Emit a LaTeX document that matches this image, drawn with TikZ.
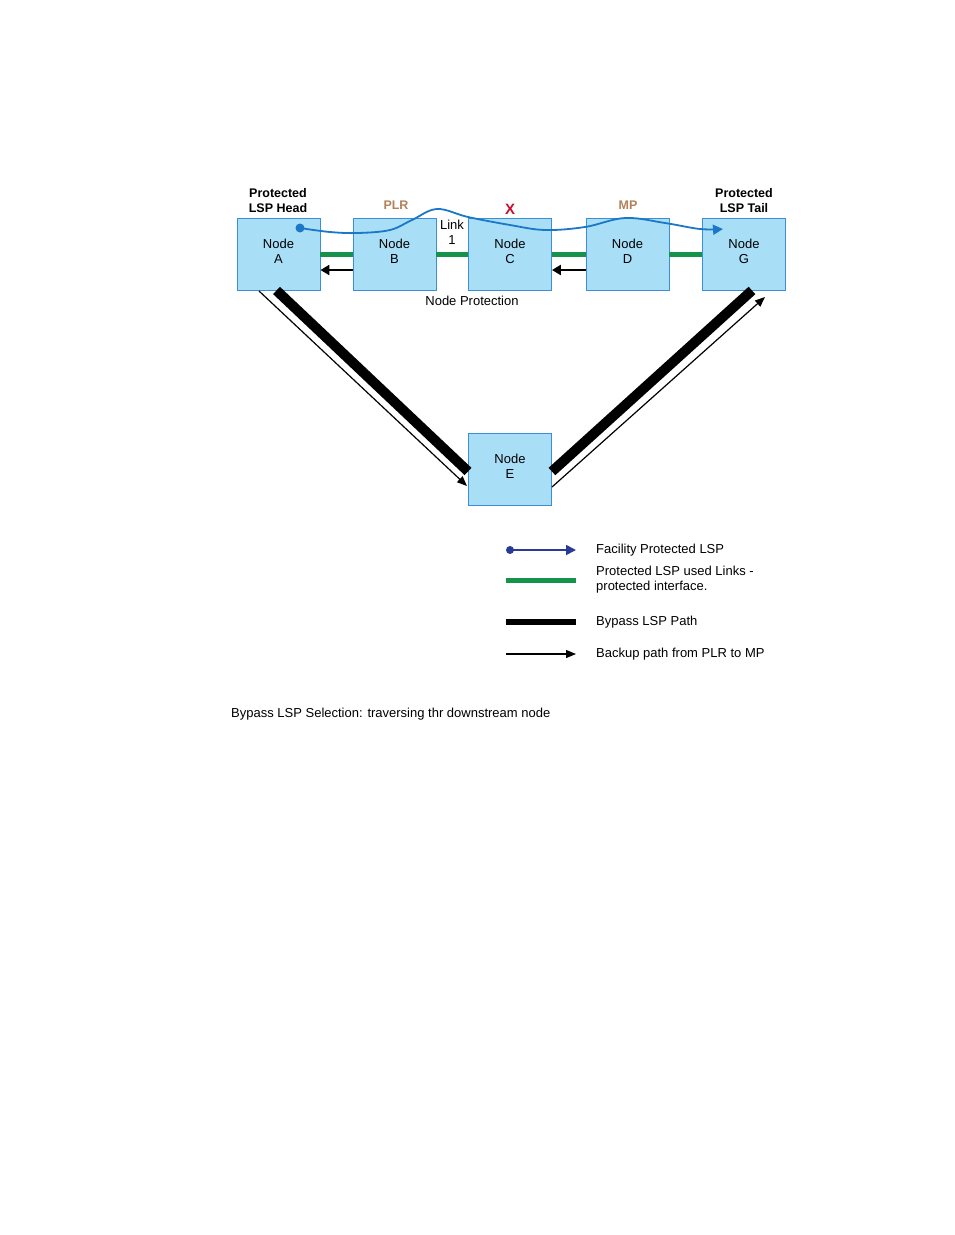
\documentclass[tikz,border=0pt]{standalone}
\usepackage{fontspec}
\setmainfont{Liberation Sans}
\usetikzlibrary{arrows.meta}
\definecolor{nodefill}{HTML}{A9DEF7}
\definecolor{nodedraw}{HTML}{3B8FD6}
\definecolor{linkgreen}{HTML}{16934A}
\definecolor{lspblue}{HTML}{1B78C8}
\definecolor{legblue}{HTML}{2B3A96}
\definecolor{brownlab}{HTML}{B3825A}
\definecolor{xred}{HTML}{C8102E}
\tikzset{
  nodebox/.style={draw=nodedraw, fill=nodefill, line width=0.9pt, minimum width=83pt, minimum height=72pt, inner sep=0pt, align=center, text depth=6pt, font=\fontsize{13}{15}\selectfont},
  glink/.style={linkgreen, line width=5pt},
  backarrow/.style={line width=2.6pt, -{Triangle[length=9pt,width=10pt]}},
  bypass/.style={line width=10pt},
  backup/.style={line width=1.2pt, -{Triangle[length=10pt,width=8pt]}},
  lbl/.style={font=\fontsize{13}{15}\selectfont, align=center, inner sep=0pt},
  boldlbl/.style={font=\bfseries\fontsize{12.5}{15}\selectfont, align=center, inner sep=0pt},
  legtxt/.style={font=\fontsize{13}{15}\selectfont, anchor=west, align=left, inner sep=0pt},
}
\begin{document}
\begin{tikzpicture}[x=1pt,y=-1pt]
\useasboundingbox (0,0) rectangle (954,1235);
% nodes
\node[nodebox] (A) at (278.5,254) {Node\\A};
\node[nodebox] (B) at (394.5,254) {Node\\B};
\node[nodebox] (C) at (510,254) {Node\\C};
\node[nodebox] (D) at (627.5,254) {Node\\D};
\node[nodebox] (G) at (744,254) {Node\\G};
\node[nodebox] (E) at (510,469.5) {Node\\E};
% labels
\node[boldlbl] (hd) at (278,200.5) {Protected\\LSP Head};
\node[boldlbl] (tl) at (744,201) {Protected\\LSP Tail};
\node[boldlbl, text=brownlab] (plr) at (396,205) {PLR};
\node[boldlbl, text=brownlab] (mp) at (628,205) {MP};
\node[font=\bfseries\fontsize{15}{15}\selectfont, text=xred, inner sep=0pt] (x) at (510,209) {X};
\node[lbl] (lk) at (452,232.5) {Link\\1};
\node[lbl] (np) at (472,301) {Node Protection};
% green links
\draw[glink] (A) -- (B);
\draw[glink] (B) -- (C);
\draw[glink] (C) -- (D);
\draw[glink] (D) -- (G);
% black back arrows
\draw[backarrow] ([yshift=-16pt]B.west) -- ([yshift=-16pt]A.east);
\draw[backarrow] ([yshift=-16pt]D.west) -- ([yshift=-16pt]C.east);
% bypass paths
\draw[bypass] ([xshift=-2pt]A.south) -- ([yshift=-2pt]E.west);
\draw[bypass] ([yshift=-2pt]E.east) -- ([xshift=8pt]G.south);
\coordinate (b1) at (259,291);
\coordinate (b2) at (467,486);
\coordinate (b3) at (552,487);
\coordinate (b4) at (765,297);
\draw[backup] (b1) -- (b2);
\draw[backup] (b3) -- (b4);
% facility protected LSP
\coordinate (fs) at (300,228);
\coordinate (fe) at (723,229);
\fill[lspblue] (fs) circle (4.5pt);
\draw[lspblue, line width=1.8pt, -{Triangle[length=10pt,width=10pt]}] plot[smooth, tension=0.6] coordinates {(fs) (330,232) (358,233) (390,230) (412,220) (437,209) (468,217) (510,225) (545,230) (585,227) (625,218) (665,223) (700,229) (fe)};
% legend
\coordinate (l1a) at (510,550); \coordinate (l1b) at (576,550);
\fill[legblue] (l1a) circle (4pt);
\draw[legblue, line width=1.8pt, -{Triangle[length=10pt,width=10pt]}] (l1a) -- (l1b);
\node[legtxt] (t1) at (596,550) {Facility Protected LSP};
\coordinate (l2a) at (506,580); \coordinate (l2b) at (576,580);
\draw[glink] (l2a) -- (l2b);
\node[legtxt] (t2) at (596,579.5) {Protected LSP used Links -\\protected interface.};
\coordinate (l3a) at (506,622); \coordinate (l3b) at (576,622);
\draw[line width=6pt] (l3a) -- (l3b);
\node[legtxt] (t3) at (596,622) {Bypass LSP Path};
\coordinate (l4a) at (506,654); \coordinate (l4b) at (576,654);
\draw[backup] (l4a) -- (l4b);
\node[legtxt] (t4) at (596,654) {Backup path from PLR to MP};
% caption
\node[legtxt] (cap) at (231,714) {Bypass LSP Selection: traversing thr downstream node};
\end{tikzpicture}
\end{document}
